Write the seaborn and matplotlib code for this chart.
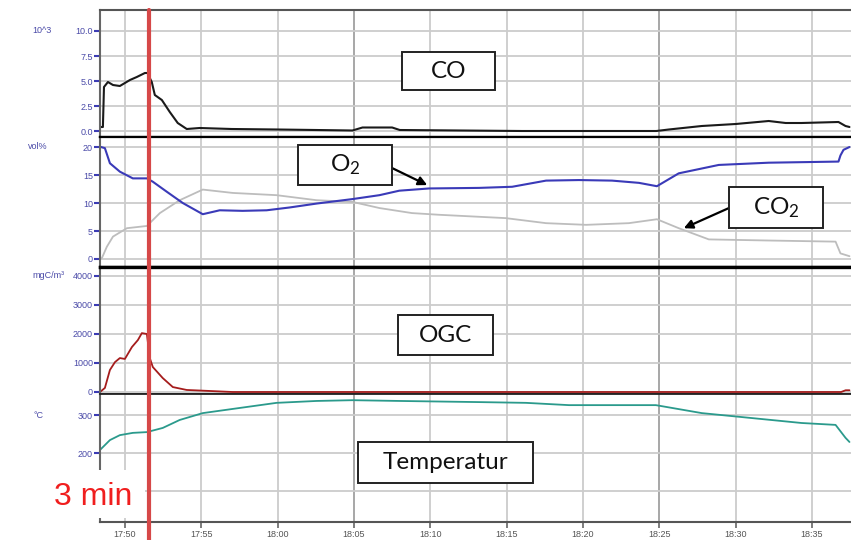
import matplotlib
matplotlib.use("Agg")
import matplotlib.pyplot as plt
import seaborn as sns
from matplotlib.lines import Line2D
from matplotlib.patches import Rectangle
from matplotlib import transforms

# ---------------- data (time in minutes after 17:00) ----------------
co_time = [48.37, 48.56, 48.63, 48.89, 49.22, 49.67, 50.00, 50.33, 50.78, 51.31, 51.50,
           51.60, 51.76, 51.96, 52.42, 52.94, 53.46, 54.05, 54.90, 57.0, 60.0, 62.5,
           64.9, 65.56, 67.5, 68.0, 72.0, 76.0, 80.0, 84.8, 85.62, 87.78, 90.0, 92.16,
           93.27, 94.31, 96.73, 97.19, 97.45]
co_vals = [0.4, 0.4, 4.4, 4.9, 4.6, 4.5, 4.8, 5.1, 5.4, 5.8, 5.8,
           5.4, 4.9, 3.6, 3.1, 1.9, 0.8, 0.2, 0.3, 0.2, 0.15, 0.1,
           0.05, 0.35, 0.35, 0.1, 0.05, 0.0, 0.0, 0.0, 0.15, 0.5, 0.7, 1.0,
           0.8, 0.8, 0.9, 0.5, 0.4]

o2_time = [48.37, 48.69, 49.02, 49.67, 50.52, 51.44, 51.83, 52.75, 53.79, 55.10, 56.21,
           57.71, 59.28, 60.78, 62.55, 64.90, 66.67, 67.97, 69.93, 73.20, 75.36, 77.58,
           79.74, 81.90, 83.66, 84.84, 86.27, 88.89, 92.16, 96.73, 96.86, 97.06, 97.45]
o2_vals = [20.05, 19.8, 17.1, 15.6, 14.4, 14.4, 13.8, 12.0, 10.0, 8.0, 8.7,
           8.6, 8.7, 9.2, 9.9, 10.7, 11.4, 12.2, 12.6, 12.7, 12.9, 14.0,
           14.1, 14.0, 13.6, 13.0, 15.3, 16.8, 17.2, 17.4, 18.5, 19.5, 20.0]

co2_time = [48.37, 48.50, 48.82, 49.22, 50.13, 51.44, 52.29, 53.59, 55.10, 57.06, 59.93,
            62.55, 64.90, 66.67, 68.80, 70.56, 74.94, 77.58, 80.20, 83.00, 84.84, 86.27,
            88.24, 92.16, 96.54, 96.86, 97.45]
co2_vals = [0.0, 0.2, 2.2, 4.0, 5.5, 5.9, 8.2, 10.5, 12.4, 11.8, 11.4,
            10.5, 10.2, 9.1, 8.2, 7.9, 7.3, 6.4, 6.1, 6.4, 7.1, 5.5,
            3.5, 3.3, 3.1, 1.0, 0.5]

ogc_time = [48.37, 48.69, 49.02, 49.35, 49.67, 50.00, 50.46, 50.85, 51.11, 51.44, 51.63,
            51.83, 52.48, 53.14, 54.05, 55.36, 57.06, 70.0, 85.0, 96.9, 97.2, 97.45]
ogc_vals = [0, 140, 760, 1030, 1170, 1140, 1550, 1790, 2030, 2000, 1170,
            860, 480, 170, 70, 40, 0, 0, 0, 0, 60, 60]

temp_time = [48.37, 49.02, 49.67, 50.52, 51.44, 52.48, 53.59, 55.10, 57.06, 59.93, 62.55,
             64.90, 67.97, 73.20, 76.27, 79.08, 84.77, 87.78, 91.05, 94.31, 96.54, 97.19,
             97.45]
temp_vals = [208, 234, 247, 253, 255, 266, 287, 305, 316, 332, 337,
             339, 337, 334, 332, 326, 326, 305, 292, 279, 274, 240,
             229]

x_ticks = [50, 55, 60, 65, 70, 75, 80, 85, 90, 95]
x_tick_labels = ["17:50", "17:55", "18:00", "18:05", "18:10", "18:15", "18:20",
                 "18:25", "18:30", "18:35"]
emphasized_grid = ["18:05", "18:25"]

co_ticks = [0, 2.5, 5, 7.5, 10]
co_tick_labels = ["0.0", "2.5", "5.0", "7.5", "10.0"]
vol_ticks = [0, 5, 10, 15, 20]
vol_tick_labels = ["0", "5", "10", "15", "20"]
ogc_ticks = [0, 1000, 2000, 3000, 4000]
ogc_tick_labels = ["0", "1000", "2000", "3000", "4000"]
temp_ticks = [100, 200, 300]
temp_tick_labels = ["", "200", "300"]

unit_labels = ["10^3", "vol%", "mgC/m³", "°C"]
marker_time = 51.57
marker_label = "3 min"
o2_arrow_target = (69.8, 13.2)
co2_arrow_target = (86.6, 5.5)

# ---------------- styling ----------------
sns.set_theme(style="white")
plt.rcParams['font.family'] = ['Liberation Sans', 'DejaVu Sans']
plt.rcParams['mathtext.default'] = 'regular'

W, H = 851, 540
fig = plt.figure(figsize=(W / 100, H / 100), dpi=100)
fig.patch.set_facecolor("white")


def fx(px):
    return px / W


def fy(py):
    return 1 - py / H


panel_px = [(10, 137), (137, 267), (267, 394), (394, 522)]
left_px = 100
ylims = [(-0.6, 12.1), (-1.43, 21.79), (-69, 4310), (18.4, 355.3)]
yticks = [(co_ticks, co_tick_labels), (vol_ticks, vol_tick_labels),
          (ogc_ticks, ogc_tick_labels), (temp_ticks, temp_tick_labels)]
unit_ypx = [31, 147, 276, 415]

tick_blue = "#3c3cb4"
label_blue = "#4b4ba8"
grid_col = "#cccccc"

axes = []
for i, (top, bot) in enumerate(panel_px):
    ax = fig.add_axes([fx(left_px), fy(bot), 1 - fx(left_px), (bot - top) / H])
    ax.set_facecolor("white")
    ax.set_xlim(48.37, 97.55)
    ax.set_ylim(*ylims[i])
    ax.set_yticks(yticks[i][0])
    ax.set_yticklabels(yticks[i][1])
    ax.set_xticks(x_ticks)
    ax.grid(True, color=grid_col, linewidth=1.3)
    ax.set_axisbelow(True)
    for gl, lab in zip(ax.get_xgridlines(), x_tick_labels):
        if lab in emphasized_grid:
            gl.set_color("#a0a0a0")
    ax.tick_params(axis='y', direction='out', length=4, width=1.5, color=tick_blue,
                   labelcolor=label_blue, labelsize=6.5, pad=1, left=True)
    for s in ["top", "bottom", "left", "right"]:
        ax.spines[s].set_visible(True)
    ax.spines["right"].set_visible(False)
    ax.spines["left"].set_color("#666666")
    ax.spines["left"].set_linewidth(1.5)
    axes.append(ax)

# separators
axes[0].spines["top"].set_color("#555555"); axes[0].spines["top"].set_linewidth(1.5)
axes[0].spines["bottom"].set_color("black"); axes[0].spines["bottom"].set_linewidth(1.6)
axes[1].spines["top"].set_color("black"); axes[1].spines["top"].set_linewidth(1.6)
axes[1].spines["bottom"].set_color("black"); axes[1].spines["bottom"].set_linewidth(2.4)
axes[2].spines["top"].set_color("black"); axes[2].spines["top"].set_linewidth(2.4)
axes[2].spines["bottom"].set_color("#222222"); axes[2].spines["bottom"].set_linewidth(1.3)
axes[3].spines["top"].set_color("#222222"); axes[3].spines["top"].set_linewidth(1.3)
axes[3].spines["bottom"].set_color("#555555"); axes[3].spines["bottom"].set_linewidth(1.5)

for ax in axes[:3]:
    ax.tick_params(axis='x', bottom=False, labelbottom=False)
axes[3].set_xticklabels(x_tick_labels)
axes[3].tick_params(axis='x', direction='out', length=4, width=1.2, color="#666666",
                    labelcolor="#555555", labelsize=6.5, pad=2, bottom=True)

# series
sns.lineplot(x=co_time, y=co_vals, ax=axes[0], color="#1a1a1a", linewidth=1.5)
sns.lineplot(x=co2_time, y=co2_vals, ax=axes[1], color="#bdbdbd", linewidth=1.3)
sns.lineplot(x=o2_time, y=o2_vals, ax=axes[1], color="#3a3ab8", linewidth=1.5)
sns.lineplot(x=ogc_time, y=ogc_vals, ax=axes[2], color="#a51c1c", linewidth=1.3)
sns.lineplot(x=temp_time, y=temp_vals, ax=axes[3], color="#2b9a8c", linewidth=1.3)
for ax in axes:
    ax.set_xlabel("")
    ax.set_ylabel("")

# unit labels
unit_xpx = [32, 28, 32, 34]
for lab, xp, yp in zip(unit_labels, unit_xpx, unit_ypx):
    fig.text(fx(xp), fy(yp), lab, fontsize=6.5, color=label_blue, va='center', ha='left')

# marker line
trans = transforms.blended_transform_factory(axes[3].transData, fig.transFigure)
fig.add_artist(Line2D([marker_time, marker_time], [0, fy(10)], transform=trans,
                      color="#d64848", linewidth=3.0, zorder=6))

# white cover box and "3 min"
fig.add_artist(Rectangle((fx(40), fy(518)), fx(145 - 40), (518 - 470) / H,
                         transform=fig.transFigure, facecolor="white",
                         edgecolor="none", zorder=3))
fig.text(fx(54), fy(497), marker_label, fontsize=23, color="#f01e1e",
         va='center', ha='left', zorder=4)


# annotation boxes
def label_box(x0, y0, x1, y1, text):
    fig.add_artist(Rectangle((fx(x0), fy(y1)), fx(x1 - x0), (y1 - y0) / H,
                             transform=fig.transFigure, facecolor="white",
                             edgecolor="#222222", linewidth=1.4, zorder=4))
    fig.text(fx((x0 + x1) / 2), fy((y0 + y1) / 2), text, fontsize=17.5,
             family=['Lato', 'DejaVu Sans'], color="#111111",
             ha='center', va='center', zorder=5)


label_box(402, 52, 495, 90, "CO")
label_box(298, 145, 392, 185, "O$_2$")
label_box(729, 187, 823, 228, "CO$_2$")
label_box(398, 315, 493, 355, "OGC")
label_box(358, 442, 533, 483, "Temperatur")

arrow_kw = dict(arrowstyle='-|>', color='black', lw=1.6, mutation_scale=13,
                shrinkA=0, shrinkB=0)
axes[1].annotate("", xy=o2_arrow_target, xycoords='data',
                 xytext=(fx(392), fy(168)), textcoords='figure fraction',
                 arrowprops=arrow_kw, annotation_clip=False)
axes[1].annotate("", xy=co2_arrow_target, xycoords='data',
                 xytext=(fx(729), fy(208)), textcoords='figure fraction',
                 arrowprops=arrow_kw, annotation_clip=False)

fig.savefig("out.png", dpi=100, facecolor="white")
